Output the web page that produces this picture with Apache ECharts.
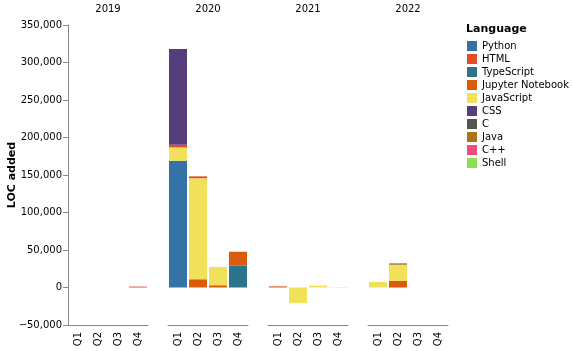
<!DOCTYPE html>
<html>
<head>
<meta charset="utf-8">
<script src="https://cdn.jsdelivr.net/npm/echarts@6/dist/echarts.min.js"></script>
<style>html,body{margin:0;padding:0;background:#fff;}#c{width:572px;height:351px;}</style>
</head>
<body>
<div id="c"></div>
<script>
// Facets and quarters
const years = ['2019', '2020', '2021', '2022'];
const quarters = ['Q1', 'Q2', 'Q3', 'Q4'];
const yTitle = 'LOC added';
const legendTitle = 'Language';
// Values per language: 16 entries = 2019Q1..Q4, 2020Q1..Q4, 2021Q1..Q4, 2022Q1..Q4
const python     = [0,0,0,0,   169000,0,0,0,        0,0,0,0,           0,0,0,0];
const html       = [0,0,0,1200, 3500,2500,0,0,      0,0,0,0,           0,0,0,0];
const typescript = [0,0,0,0,   0,0,0,29000,         0,0,0,0,           0,0,0,0];
const jupyter    = [0,0,0,0,   0,11000,3000,18700,  1500,0,0,0,        0,9000,0,0];
const javascript = [0,0,0,0,   17800,134700,24300,0, 0,-20700,2500,500, 7500,21300,0,0];
const css        = [0,0,0,0,   127700,0,0,0,        0,0,0,0,           0,0,0,0];
const cLang      = [0,0,0,0,   0,0,0,0,             0,0,0,0,           0,0,0,0];
const java       = [0,0,0,0,   0,0,0,0,             0,0,0,0,           0,1000,0,0];
const cpp        = [0,0,0,0,   0,0,0,0,             0,0,0,0,           0,1000,0,0];
const shell      = [0,0,0,0,   0,0,0,0,             0,0,0,0,           0,0,0,0];
const legendOrder = ['Python','HTML','TypeScript','Jupyter Notebook','JavaScript','CSS','C','Java','C++','Shell'];

const langs = {
  'TypeScript': {data: typescript, color: '#2b7489'},
  'Shell': {data: shell, color: '#89e051'},
  'Python': {data: python, color: '#3572A5'},
  'Jupyter Notebook': {data: jupyter, color: '#DA5B0B'},
  'JavaScript': {data: javascript, color: '#f1e05a'},
  'Java': {data: java, color: '#b07219'},
  'HTML': {data: html, color: '#e34c26'},
  'CSS': {data: css, color: '#563d7c'},
  'C++': {data: cpp, color: '#f34b7d'},
  'C': {data: cLang, color: '#555555'}
};
const stackOrder = ['TypeScript','Shell','Python','Jupyter Notebook','JavaScript','Java','HTML','CSS','C++','C'];

const font = 'DejaVu Sans';
const gridLeft = [68, 168, 268, 368];
const grids = [], xAxes = [], yAxes = [], titles = [], series = [];
years.forEach((y, g) => {
  grids.push({left: gridLeft[g], top: 25, width: 80, height: 300});
  titles.push({text: y, left: gridLeft[g] + 40, top: 4, padding: 0, textAlign: 'center',
    textStyle: {fontFamily: font, fontSize: 10, fontWeight: 'normal', color: '#000'}});
  xAxes.push({type: 'category', gridIndex: g, data: quarters,
    axisLine: {onZero: false, lineStyle: {color: '#888'}},
    axisTick: {alignWithLabel: true, length: 5, lineStyle: {color: '#888'}},
    axisLabel: {rotate: 90, fontFamily: font, fontSize: 10, color: '#000', margin: 7}});
  yAxes.push({type: 'value', gridIndex: g, min: -50000, max: 350000, interval: 50000,
    show: g === 0,
    splitLine: {show: false},
    axisLine: {show: true, lineStyle: {color: '#888'}},
    axisTick: {show: true, length: 5, lineStyle: {color: '#888'}},
    axisLabel: {fontFamily: font, fontSize: 10, color: '#000', margin: 6,
      formatter: v => v.toLocaleString('en-US').replace('-', '\u2212')}});
  stackOrder.forEach(name => {
    series.push({type: 'bar', name: name, xAxisIndex: g, yAxisIndex: g, stack: 's' + g,
      barCategoryGap: '10%', itemStyle: {color: langs[name].color},
      data: langs[name].data.slice(g * 4, g * 4 + 4)});
  });
});

const chart = echarts.init(document.getElementById('c'), null, {renderer: 'canvas'});
chart.setOption({
  animation: false,
  title: titles,
  grid: grids,
  xAxis: xAxes,
  yAxis: yAxes,
  legend: {data: legendOrder, orient: 'vertical', left: 467, top: 41, padding: 0,
    itemWidth: 10, itemHeight: 10, itemGap: 3, icon: 'rect',
    textStyle: {fontFamily: font, fontSize: 10, color: '#000'}},
  graphic: [
    {type: 'text', left: 466, top: 24,
      style: {text: legendTitle, fontFamily: font, fontSize: 11, fontWeight: 'bold', fill: '#000'}},
    {type: 'text', x: 12, y: 175, rotation: Math.PI / 2,
      style: {text: yTitle, fontFamily: font, fontSize: 11, fontWeight: 'bold', fill: '#000',
        textAlign: 'center', textVerticalAlign: 'middle'}}
  ],
  series: series
});
</script>
</body>
</html>
